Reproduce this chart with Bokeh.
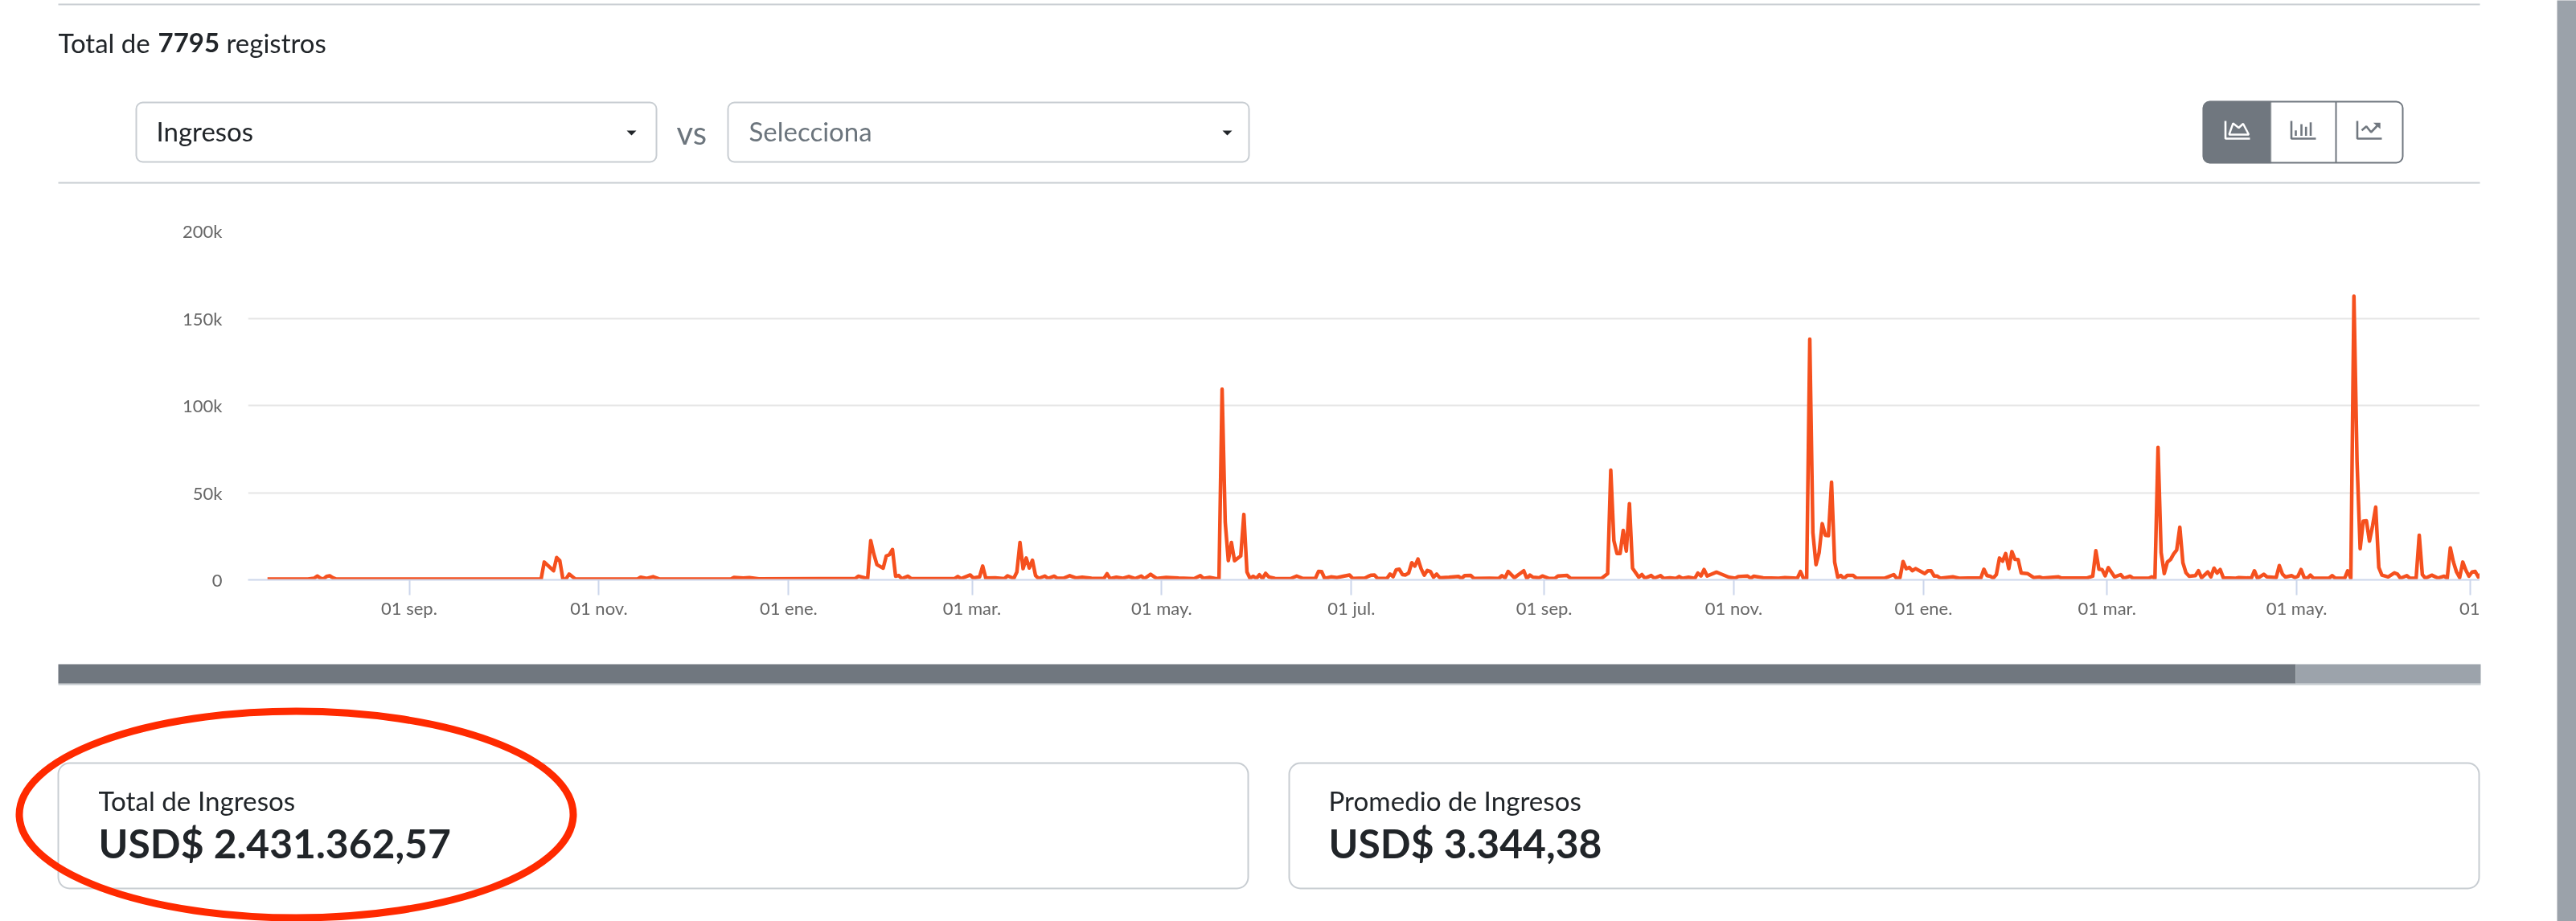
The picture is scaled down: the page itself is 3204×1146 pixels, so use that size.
from datetime import datetime, timedelta
from bokeh.plotting import figure
from bokeh.layouts import column, row
from bokeh.models import Range1d, FixedTicker, BoxAnnotation, Spacer
from bokeh.core.properties import value
from bokeh.embed import file_html
from bokeh.resources import INLINE

FONT = "Lato"
INK = "#212529"
MUTED = "#6c757d"
RULE = "#c8cdd2"
SLATE = "#70777f"
SOFT = "#9ca3ab"

# ---- series data: days since the first date, USD
primera_fecha = datetime(2020, 7, 18, 10)
dias_a = [-1,12,14,15,16,17,18,19,20,21,87,88,91,92,93,94,95,96,98,118,119,121,123,125,148,149,152,154,157]
ingr_a = [500,500,900,2200,1000,500,2000,2300,1200,500,500,10200,5200,12800,11000,500,500,3300,500,500,1500,800,1800,500,500,1400,1000,1300,600]
dias_b = [188,189,192,193,194,195,197,198,199,200,201,202,203,205,206,220,221,222,225,226,228,229,230,233,236,237,239,240,241,242,243,244,245,246,247,249,250,252,253,255,257,259,261,264,268,269,270,272,274,276,278,280,281,283,285,288,292,297,299,300,302,304,305,306,307,308,309,310,312,313,314,315,316,317,318,319,320,321,323,328,330,332,336,337,338,339,341,343,345,347,348,352]
ingr_b = [700,2100,700,22500,14800,8700,6700,13700,14400,17400,2100,2500,700,2100,700,700,1900,700,2800,1000,1700,7900,1000,1200,700,2300,800,4500,21400,6400,12500,6800,11300,2500,800,2200,800,2100,900,900,2400,1100,1500,900,800,3500,700,1500,900,1900,700,2200,700,3200,800,1400,1000,700,2400,800,1400,700,700,109300,33200,11000,21400,11000,13700,37500,4500,800,2100,800,2900,800,3700,1700,800,700,2200,800,800,4800,4700,800,1700,1300,2100,2800,800,1000]
dias_c = [353,354,355,356,359,360,361,362,363,364,365,366,367,368,369,370,371,372,373,374,375,376,379,382,383,384,386,387,392,395,396,397,398,400,403,404,405,406,408,409,411,413,414,417,418,428,430,431,432,433,434,435,436,437,438,440,441,442,444,445,447,448,450,452,453,454,456,458,459,460,461,462,465,466,469,471,472,475,476,477,480,485,487,491,492,493,494,495,496,497,498,499,500,501,502,503,504,505,506,507,509,510,519,522,523,524,525,526,527,528,529,532,533,534,535,536,537,541,543,546]
ingr_c = [2000,2700,2800,800,800,3300,1800,5800,6100,3000,2800,3900,9800,7900,11900,6400,2700,5400,4800,1500,3300,1200,1500,2000,800,2400,2500,800,900,800,2400,1200,4800,1200,5200,800,2700,1500,1200,2200,900,800,2200,2500,900,800,3600,62900,22500,15100,15100,28300,16500,43700,6700,1500,3000,900,2500,900,2400,800,1200,800,1900,800,1500,800,3900,2200,5900,2200,4400,3700,1500,900,1900,2200,900,2100,1200,900,1300,900,4800,800,800,138000,27100,8700,15600,32200,25600,25300,56000,10200,1500,2500,800,2500,2500,900,900,3000,800,1200,10500,6400,7100,5200,6400,3600,5200,5200,2200,2200,900,1700,900,1000]
dias_d = [550,551,552,553,554,555,556,557,558,559,560,561,562,563,565,567,569,570,575,576,584,586,587,588,589,590,591,593,595,596,598,599,604,605,606,607,608,609,610,611,612,613,614,615,616,617,619,620,621,623,624,625,626,627,628,632,633,637,638,639,641,642,645,646,647,648,650,651,652,653,654,655,656,657,662,663,664,667,668,669,670,671,672,673,674,675,676,677,678,679,681,683,684,685,687,688,690,691,692,693,695,697,699,700,701,702,703,704,705,706,707,708,709,710,711]
ingr_d = [1000,6100,2400,2100,1000,3000,12500,10700,15100,6400,16200,11700,11600,3900,3600,1300,1600,1000,1700,1000,1000,2100,16700,6100,5900,2300,7000,1700,3000,900,2100,900,900,1700,900,75900,15600,3600,10200,11600,14800,17100,30200,9800,4000,2100,2400,5200,1200,4500,1700,6700,3900,5900,1200,900,1300,1000,5200,900,3200,1700,1300,8200,3300,1600,2400,1300,2100,5900,1300,900,2700,900,900,2400,900,900,5200,900,162700,67800,17900,33700,33900,22200,31000,41700,7100,2700,1700,4000,3300,900,2400,900,900,25600,3000,900,2700,1000,2100,900,18300,10200,4500,1300,10200,5500,2100,4500,4800,1700,3600]
assert len(dias_a)==len(ingr_a) and len(dias_b)==len(ingr_b) and len(dias_c)==len(ingr_c) and len(dias_d)==len(ingr_d)

# ---- axis data
y_ticks = [0, 50000, 100000, 150000, 200000]
y_labels = ["0", "50k", "100k", "150k", "200k"]
x_fechas = [(2020,9,1),(2020,11,1),(2021,1,1),(2021,3,1),(2021,5,1),(2021,7,1),(2021,9,1),(2021,11,1),(2022,1,1),(2022,3,1),(2022,5,1)]
x_labels = ["01 sep.","01 nov.","01 ene.","01 mar.","01 may.","01 jul.","01 sep.","01 nov.","01 ene.","01 mar.","01 may."]
ultima_label = "01"

# ---- texts
total_registros = "7795"
metrica = "Ingresos"
placeholder = "Selecciona"
titulo_total = "Total de Ingresos"
valor_total = "USD$ 2.431.362,57"
titulo_prom = "Promedio de Ingresos"
valor_prom = "USD$ 3.344,38"

def ms(dt):
    return (dt - datetime(1970, 1, 1)).total_seconds() * 1000.0

def page_fig(w, y0, y1):
    f = figure(width=w, height=y1 - y0, output_backend="svg", toolbar_location=None,
               x_range=Range1d(0, w), y_range=Range1d(y1, y0),
               x_axis_type=None, y_axis_type=None, min_border=0,
               outline_line_color=None, background_fill_color="white", border_fill_color="white")
    f.grid.visible = False
    return f

def txt(f, x, y, s, size, color=INK, bold=False):
    f.text([x], [y], text=[s], text_font=value(FONT), text_font_size=f"{size}px", text_color=color,
           text_baseline="middle", text_align="left", text_font_style="bold" if bold else "normal")

def box(f, l, r, t, b, line=RULE, fill=None, lw=2, radius=8):
    f.add_layout(BoxAnnotation(left=l, right=r, top=t, bottom=b, line_color=line, line_width=lw, line_alpha=1,
                               fill_color=fill or "white", fill_alpha=1 if fill else 0,
                               border_radius=radius, level="underlay"))

MAIN_W = 3180
# ---- header
h = page_fig(MAIN_W, 0, 240)
h.segment([72, 72], [5, 227], [3084, 3084], [5, 227], line_color=RULE, line_width=2)
txt(h, 72, 52, "Total de", 33)
txt(h, 196, 52, total_registros, 33, bold=True)
txt(h, 281, 52, "registros", 33)
box(h, 169, 816, 127, 201)
box(h, 905, 1553, 127, 201)
txt(h, 194, 162, metrica, 33)
txt(h, 931, 162, placeholder, 33, color=MUTED)
txt(h, 841, 164, "vs", 40, color=MUTED)
h.patches([[779, 791, 785], [1520, 1532, 1526]], [[162, 162, 168], [162, 162, 168]],
          fill_color=INK, line_color=None)
# view switch
box(h, 2740, 2988, 126, 202, line=SLATE, radius=8)
h.add_layout(BoxAnnotation(left=2740, right=2824, top=126, bottom=202, fill_color=SLATE, fill_alpha=1,
                           line_color=SLATE, line_width=2, border_radius=(8, 0, 0, 8), level="underlay"))
h.segment([2905], [126], [2905], [202], line_color=SLATE, line_width=2)
# icons
h.multi_line([[2767.5, 2767.5, 2798], [2849.5, 2849.5, 2880], [2931.5, 2931.5, 2962]],
             [[150, 172, 172], [150, 172, 172], [150, 172, 172]],
             line_color=["white", SLATE, SLATE], line_width=2.6)
h.patch([2772, 2777, 2784, 2789.5, 2796.5], [167, 153, 158.5, 153.5, 167], fill_alpha=0, line_color="white", line_width=2.4)
h.segment([2855, 2862, 2867.7, 2873.5], [168.5]*4, [2855, 2862, 2867.7, 2873.5], [161.7, 154, 157.3, 151.7],
          line_color=SLATE, line_width=2.6)
h.line([2937, 2942.8, 2948.6, 2956.3], [161.7, 156.7, 164, 156], line_color=SLATE, line_width=2.6)
h.patch([2951.3, 2960.2, 2960.2], [152.3, 152.3, 160], fill_color=SLATE, line_color=None)

# ---- chart
dias = dias_a + dias_b + dias_c + dias_d
ingresos = ingr_a + ingr_b + ingr_c + ingr_d
xs = [ms(primera_fecha + timedelta(days=d)) for d in dias]
ref = datetime(2020, 9, 1)
PX_DAY = 3.8675
x0 = ms(ref + timedelta(days=-(508.5 - 308) / PX_DAY))
x1 = ms(ref + timedelta(days=(3084 - 508.5) / PX_DAY))
c = figure(width=3084, height=550, output_backend="svg", toolbar_location=None,
           x_range=Range1d(x0, x1), y_range=Range1d(0, 200000),
           min_border_left=308, min_border_right=0, min_border_top=47, min_border_bottom=69,
           outline_line_color=None, background_fill_color="white", border_fill_color="white")
c.line(xs, ingresos, line_color="#f5501e", line_width=4.5, line_join="round")
tick_ms = [ms(datetime(*d)) for d in x_fechas]
tick_corte = float(round(x1 - (12 / PX_DAY) * 86400000))
c.xaxis.ticker = FixedTicker(ticks=tick_ms + [tick_corte])
overrides = {t: l for t, l in zip(tick_ms, x_labels)}
overrides[tick_corte] = ultima_label
c.xaxis.major_label_overrides = overrides
c.xaxis.axis_line_color = "#ccd6eb"
c.xaxis.axis_line_width = 2
c.xaxis.major_tick_line_color = "#ccd6eb"
c.xaxis.major_tick_line_width = 2
c.xaxis.major_tick_out = 19
c.xaxis.major_tick_in = 0
c.xaxis.minor_tick_line_color = None
c.xaxis.major_label_standoff = 2
c.xaxis.major_label_text_font = FONT
c.xaxis.major_label_text_font_size = "22px"
c.xaxis.major_label_text_color = "#666666"
c.yaxis.ticker = FixedTicker(ticks=y_ticks)
c.yaxis.major_label_overrides = {t: l for t, l in zip(y_ticks, y_labels)}
c.yaxis.axis_line_color = None
c.yaxis.major_tick_line_color = None
c.yaxis.minor_tick_line_color = None
c.yaxis.major_label_standoff = 26
c.yaxis.major_label_text_font = FONT
c.yaxis.major_label_text_font_size = "22px"
c.yaxis.major_label_text_color = "#666666"
c.xgrid.visible = False
c.ygrid.ticker = FixedTicker(ticks=y_ticks)
c.ygrid.grid_line_color = "#e6e6e6"
c.ygrid.grid_line_width = 2

# ---- footer
f = page_fig(MAIN_W, 790, 1146)
f.quad(left=[72], right=[3085], top=[850], bottom=[852], fill_color=RULE, line_color=None)
f.quad(left=[72], right=[2855], top=[826], bottom=[850], fill_color=SLATE, line_color=None)
f.quad(left=[2855], right=[3085], top=[826], bottom=[850], fill_color=SOFT, line_color=None)
box(f, 72, 1552, 949, 1105, radius=14)
box(f, 1603, 3083, 949, 1105, radius=14)
txt(f, 122, 995, titulo_total, 33.2)
txt(f, 122, 1048, valor_total, 49.8, bold=True)
txt(f, 1652, 995, titulo_prom, 33.2)
txt(f, 1652, 1048, valor_prom, 49.8, bold=True)
f.ellipse([368], [1013], width=[689], height=[257], fill_alpha=0, line_color="#ff2a00", line_width=9)

# ---- page scrollbar
s = figure(width=24, height=1146, output_backend="svg", toolbar_location=None, x_axis_type=None, y_axis_type=None,
           min_border=0, outline_line_color=None, background_fill_color="#9ba2aa", border_fill_color="#9ba2aa",
           x_range=Range1d(0, 1), y_range=Range1d(0, 1))
s.grid.visible = False

layout = row(column(h, row(c, Spacer(width=96, height=550)), f), s,
             styles={"position": "fixed", "left": "0px", "top": "0px"})
open("out.html", "w").write(file_html(layout, INLINE))
